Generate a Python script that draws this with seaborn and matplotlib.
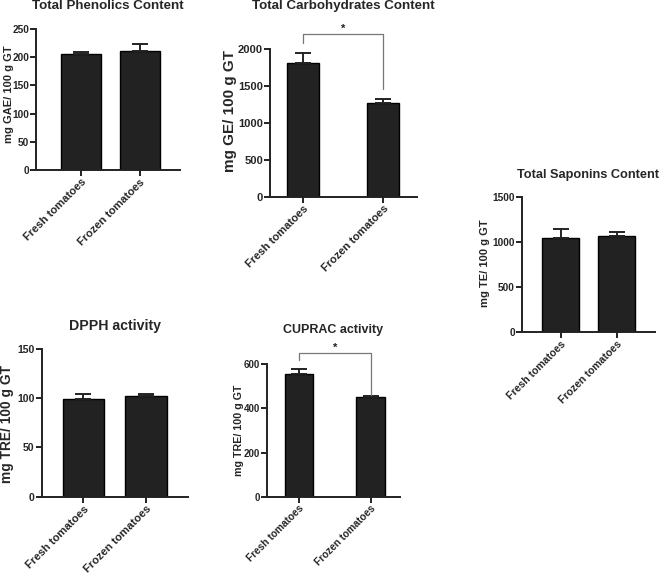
import numpy as np
import pandas as pd
import matplotlib
matplotlib.use("Agg")
import matplotlib.pyplot as plt
import seaborn as sns

# Data
groups = ["Fresh tomatoes", "Frozen tomatoes"]

phenolics_mean = [205, 211]
phenolics_err = [4, 13]

carbs_mean = [1810, 1267]
carbs_err = [145, 63]

saponins_mean = [1043, 1066]
saponins_err = [107, 44]

dpph_mean = [98.9, 102.6]
dpph_err = [5.7, 1.7]

cuprac_mean = [556, 450]
cuprac_err = [21, 4]

sns.set_style("ticks")
plt.rcParams["font.family"] = ["Liberation Sans", "DejaVu Sans"]
plt.rcParams["font.weight"] = "bold"

fig = plt.figure(figsize=(6.61, 5.77), dpi=100)


def panel(rect, means, errs, title, ylabel, ymax, yticks, xlim, width,
          fs_title, fs_tick, fs_label, fs_xtick, title_y, label_xy):
    ax = fig.add_axes(rect)
    df = pd.DataFrame({"group": groups, "value": means})
    sns.barplot(data=df, x="group", y="value", ax=ax, color="#222222",
                edgecolor="black", linewidth=1, width=width, errorbar=None,
                saturation=1)
    ax.errorbar([0, 1], means, yerr=[np.zeros(2), errs], fmt="none",
                ecolor="#222222", elinewidth=1.4, capsize=6, capthick=1.4)
    ax.set_ylim(0, ymax)
    ax.set_xlim(*xlim)
    ax.set_yticks(yticks)
    sns.despine(ax=ax)
    for s in ["left", "bottom"]:
        ax.spines[s].set_linewidth(1.4)
        ax.spines[s].set_color("#222222")
    ax.tick_params(axis="both", width=1.4, length=4, color="#222222",
                   pad=1)
    ax.tick_params(axis="y", labelsize=fs_tick)
    ax.set_xlabel("")
    ax.set_ylabel("")
    ax.text(label_xy[0], label_xy[1], ylabel, transform=ax.transAxes,
            rotation=90, ha="center", va="center", fontsize=fs_label,
            fontweight="bold")
    ax.set_xticks([0, 1])
    ax.set_xticklabels(groups, rotation=45, ha="right",
                       rotation_mode="anchor", fontsize=fs_xtick,
                       fontweight="bold")
    for t in ax.get_yticklabels():
        t.set_fontweight("bold")
    ax.set_title(title, fontsize=fs_title, fontweight="bold",
                 y=title_y, pad=0)
    return ax


ax1 = panel([0.0545, 0.7054, 0.2179, 0.2444], phenolics_mean, phenolics_err,
            "Total Phenolics Content", "mg GAE/ 100 g GT", 250,
            [0, 50, 100, 150, 200, 250], (-0.76, 1.68), 0.68,
            9.6, 7.3, 8, 8, 1.144, (-0.19, 0.54))

ax2 = panel([0.4085, 0.6591, 0.2224, 0.2555], carbs_mean, carbs_err,
            "Total Carbohydrates Content", "mg GE/ 100 g GT", 2000,
            [0, 500, 1000, 1500, 2000], (-0.41, 1.42), 0.40,
            9.6, 8, 11, 8, 1.27, (-0.275, 0.578))

ax3 = panel([0.7893, 0.4241, 0.2017, 0.234], saponins_mean, saponins_err,
            "Total Saponins Content", "mg TE/ 100 g GT", 1500,
            [0, 500, 1000, 1500], (-0.70, 1.68), 0.66,
            9.2, 7.3, 8, 7.6, 1.142, (-0.275, 0.51))

ax4 = panel([0.0631, 0.1392, 0.2213, 0.256], dpph_mean, dpph_err,
            "DPPH activity", "mg TRE/ 100 g GT", 150,
            [0, 50, 100, 150], (-0.67, 1.68), 0.67,
            10.2, 7.6, 9.9, 8.1, 1.13, (-0.235, 0.49))

ax5 = panel([0.4035, 0.1392, 0.2017, 0.2295], cuprac_mean, cuprac_err,
            "CUPRAC activity", "mg TRE/ 100 g GT", 600,
            [0, 200, 400, 600], (-0.45, 1.41), 0.40,
            9, 7, 7.7, 7.3, 1.233, (-0.21, 0.50))

# significance brackets
def bracket(ax, y_top, y_left, y_right):
    ax.plot([0, 0, 1, 1], [y_left, y_top, y_top, y_right], color="#777777",
            lw=0.9, clip_on=False)
    ax.text(0.5, y_top, "*", ha="center", va="bottom", fontsize=8,
            color="#222222")

bracket(ax2, 2208, 2085, 1461)
bracket(ax5, 652, 619, 461)

fig.savefig("out.png", dpi=100)
